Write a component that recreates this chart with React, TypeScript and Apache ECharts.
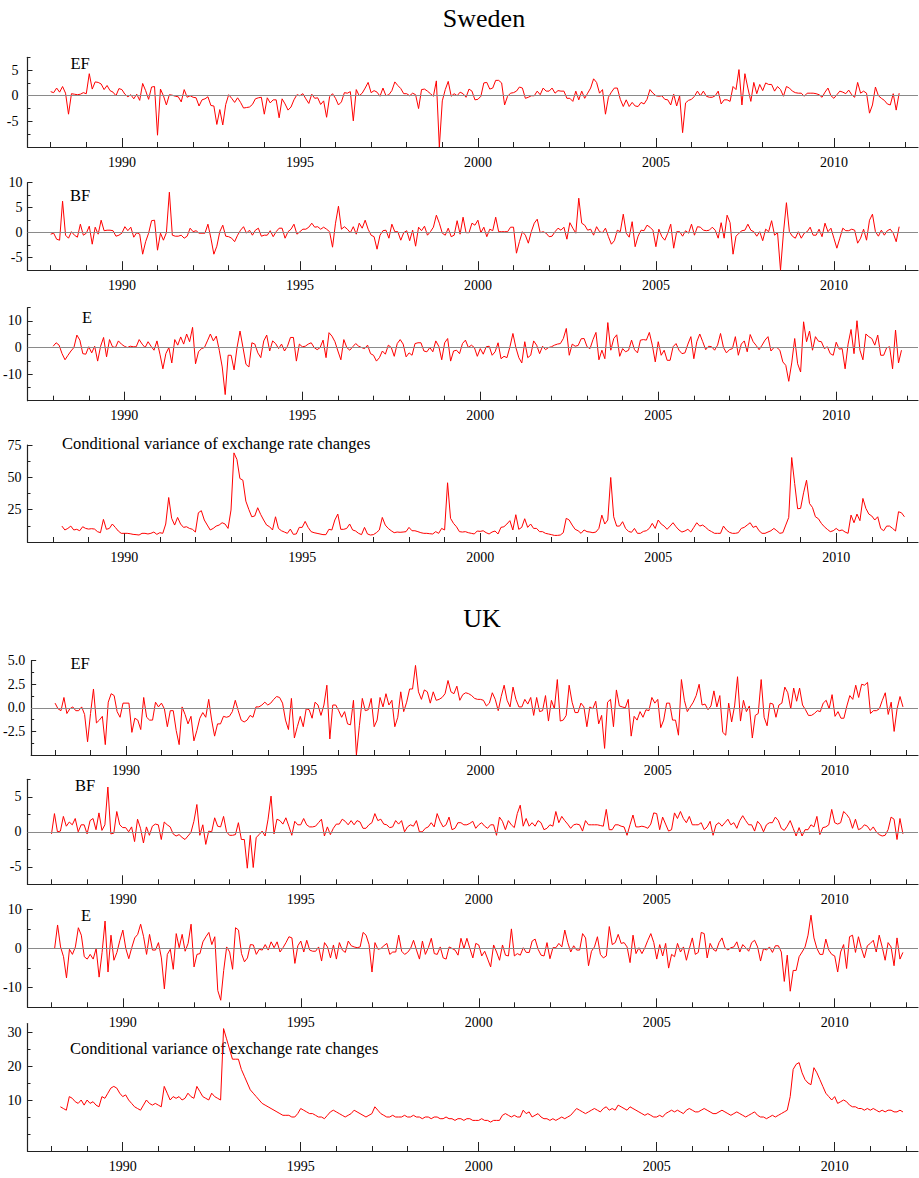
import React, { useEffect, useRef } from "react";
import * as echarts from "echarts";

// ---------- DATA (monthly values, first month index relative to Jan 1988) ----------
const MAJOR_YEARS = [1990, 1995, 2000, 2005, 2010];
const MINOR_YEARS = [1988, 1989, 1990, 1991, 1992, 1993, 1994, 1995, 1996, 1997, 1998, 1999, 2000, 2001, 2002, 2003, 2004, 2005, 2006, 2007, 2008, 2009, 2010, 2011, 2012];

const SWE_EF_START = 0;
const SWE_EF = [
  0.8, 0.6, 1.5, 0.7, 1.8, 0.5, -3.6, 0.4, 0.3, 0.2, 0.3, 0.6,
  0.4, 4.3, 1.3, 2.7, 2.6, 2.3, 1.2, 2.0, 1.0, 0.7, 0.0, 1.4,
  1.2, 0.3, -0.2, 0.2, -0.6, 0.3, -0.9, 2.4, 1.0, -0.7, 1.7, 1.8,
  -7.7, 1.3, 0.0, -1.8, 0.2, 0.1, -0.1, -0.2, -1.2, 1.2, -0.3, 0.0,
  -0.3, -0.4, -2.0, -0.8, -0.6, -0.2, -1.9, -2.0, -5.6, -2.7, -5.7, -1.7,
  0.2, -0.5, -1.3, -0.4, -1.3, -2.4, -2.3, -2.2, -1.7, -0.6, -0.4, -0.3,
  -3.6, -0.4, -1.4, -0.8, -0.8, -4.3, -0.6, -1.6, -2.8, -2.2, -0.8, 0.2,
  0.0, 0.4, -0.6, -1.5, 0.3, -0.5, -0.4, -1.7, -1.0, -4.2, -0.2, 0.4,
  -0.5, -1.8, -1.2, 0.6, 0.5, 0.8, -4.9, 1.2, 0.0, 0.5, 1.5, 2.6,
  0.6, 1.0, 0.7, -0.1, 1.5, 0.0, 0.2, 1.0, 2.7, 2.0, 1.4, 0.4,
  0.4, 0.0, 0.5, 0.2, -2.5, 1.2, 1.3, 0.9, 0.4, -0.1, 2.9, -10,
  -1.0, 1.2, 2.8, -0.1, 0.4, 0.0, 0.7, 0.4, -0.3, 1.3, 0.9, -0.8,
  -0.7, -0.1, 2.5, 2.6, 1.3, 1.5, 3.0, 3.0, 2.5, -1.8, -0.1, 0.5,
  0.6, 0.9, 1.7, 1.5, -0.5, -0.3, 0.0, 0.0, 0.9, 0.2, 1.5, 0.9,
  0.9, 1.5, 0.5, 1.0, 0.9, 0.9, -0.5, -0.5, -1.1, 0.9, -0.8, 0.9,
  -0.5, 0.5, 1.5, 3.3, 2.6, 0.5, 1.2, -3.6, -0.3, 0.7, 1.5, 1.5,
  -0.7, -2.1, -0.8, -2.1, -1.3, -2.0, -2.1, -1.3, -1.6, -0.7, 1.2, 0.5,
  0.0, -0.1, 0.0, -0.7, -0.8, -1.8, 0.3, -2.0, 0.0, -7.2, -1.4, -0.9,
  -0.7, -0.1, 0.9, 0.0, 0.9, -0.1, -0.3, -0.3, 0.0, 0.9, -1.6, -0.8,
  -0.8, -1.1, 1.8, 1.2, 5.1, -1.8, 4.3, 1.5, -1.1, 2.6, 0.4, 2.2,
  1.0, 2.5, 2.2, 2.2, 0.9, 1.8, 1.2, -0.1, 1.8, 1.5, 0.9, 0.6,
  0.5, 0.5, -0.1, 0.5, 0.5, 0.5, 0.4, 0.2, -0.3, 0.7, 1.5, 0.0,
  -0.5, 0.2, 0.9, 0.7, 0.4, 1.1, 0.2, -0.3, 2.6, 0.5, 0.9, 0.5,
  -3.4, -1.8, 1.7, 0.0, -0.5, -0.9, -1.6, -1.8, 0.4, -2.8, 0.5,
];

const SWE_BF_START = 0;
const SWE_BF = [
  -0.3, -0.1, -1.3, -1.5, 6.3, -0.5, -1.1, 0.2, -0.5, -0.9, 1.7, -0.5, -0.1, 1.3, -2.3, 1.1, -0.3, 2.5, 0.4, 0.5,
  0.5, 0.4, -0.7, -0.5, -0.1, 1.2, 0.4, 1.1, -0.9, 0.0, -0.3, -4.3, -1.8, -0.1, 2.4, 2.5, -3.5, -0.1, -1.5, 0.0,
  8.1, -0.5, -0.7, -0.7, -0.5, -1.1, -0.7, 0.9, 0.2, 0.4, -0.1, -0.1, -0.1, 1.7, -1.1, -4.3, -2.7, 0.2, 1.5, -0.7,
  -0.8, -1.1, -1.8, -0.5, 0.5, 1.2, -0.1, 0.5, -0.5, 0.5, 0.9, -0.7, -0.5, -0.5, 0.4, -0.8, 0.2, 0.9, 0.9, -1.1,
  0.2, 0.7, 1.7, -0.3, 0.2, 0.7, 0.7, 1.1, 1.9, 1.1, 1.2, 0.7, 1.1, 0.7, 0.2, -2.9, 1.9, 5.3, 0.7, 1.2,
  0.7, 0.0, 1.2, -0.3, 1.9, 0.9, 2.5, 0.7, -0.5, -0.8, -3.3, -0.5, 0.4, 0.5, -1.1, 1.7, 0.2, 0.2, -1.5, 0.0,
  0.4, -1.6, 0.5, -2.7, 1.1, 0.4, 1.3, -0.5, 0.2, 1.1, 3.5, 1.9,
  -0.1, -0.5, 0.9, -0.8, -0.5, 2.4, -0.3, 3.1, 0.0, 0.0, 1.9, 1.5, 2.5, 0.0, 1.1, -0.8, 0.7, 0.4, 3.1, 0.2,
  0.2, 0.2, 0.2, 1.1, 1.1, -4.1, -1.8, 0.2, -0.5, -2.1, 0.2, 1.9, 2.7, 0.0, 0.2, -0.1, -0.8, -0.7, 0.2, 0.9,
  0.5, 1.1, -1.3, 2.0, 0.9, -0.1, 6.9, 1.9, 1.5, 0.5, 0.7, -0.5, 1.2, 0.2, 0.0, 0.9, -0.8, -2.3, -1.6, 0.5,
  0.2, 3.7, -0.1, -0.9, 2.2, -2.8, -0.7, 0.5, 0.4, 1.5, 1.1, 0.5, -2.8, 0.7, -0.8, -1.5, -0.1, 1.7, -3.1, 0.2,
  0.2, -0.7, 0.4, -0.1, 1.7, -0.5, 1.2, 1.1, 0.5, 0.4, 0.5, 1.1, 0.5, -1.1, 2.0, -1.1, 3.5, 2.0, -4.3, -0.7,
  -0.1, 0.4, 0.5, 1.7, 0.5, 0.2, -0.7, 0.2, -1.6, 0.7, 0.2, 2.4, -0.5, 0.0, -7.5, 0.0, 6.0, 0.2, -0.7, -1.1,
  0.2, -1.1, -0.1, 0.2, 1.1, -0.5, -0.5, 0.7, -0.8, 1.9, 0.2, 0.9, -1.1, -3.1, -1.1, 0.9, 0.4, 0.4, 0.7, 0.5,
  -2.1, -1.1, 0.7, -1.5, 2.5, 3.7, 0.2, -0.7, 0.5, -0.5, 0.4, 0.7, -0.1, -1.8, 1.2,
];

const SWE_E_START = 0;
const SWE_E = [
  0.5, 1.8, 0.9, -2.3, -4.6, -2.9, -1.3, 0.0, 4.7, 2.8, -2.3, -2.5, 0.3, -2.0, 0.5, -5.1, 0.5, 3.8, -3.5, 3.0,
  0.3, 0.0, 2.5, 1.3, 0.5, 0.0, 0.5, 0.3, 0.3, 3.0, 1.3, 0.0, 2.2, 0.5, -1.0, 2.5, -2.5, -8.0, -2.3, 0.0,
  -5.8, 3.0, 0.9, 4.0, 1.3, 5.1, 2.2, 7.6, -6.1, -1.6, -0.4, 0.0, 2.5, 5.1, 2.5, 4.3, -1.0, -7.3, -17.7, -2.9,
  -2.9, -8.4, 0.0, 6.2, 0.0, -6.3, -7.3, 1.8, 1.3, -2.0, -3.8, 2.5, 4.7, -1.3, 2.5, 1.5, -0.4, 1.3, -1.3, 0.5,
  3.8, 3.8, -5.1, 1.3, 0.3, 0.5, 1.3, 1.8, 0.0, -0.8, 0.0, 2.8, -3.8, 5.6, 4.3, 2.2, -1.3, -4.6, 3.0, 0.0,
  -1.0, 0.3, 1.5, 0.5, 0.0, -0.4, 0.9, -2.3, -2.9, -5.1, -3.8, -1.3, -2.5, 0.9, 0.0, -3.3, 1.5, 3.0, 1.3, -3.5,
  -2.0, -2.9, 1.5, 1.8, 1.8, -1.3, -1.6, 0.0, -1.6, 2.5, 0.5, -4.6, 1.8,
  3.4, -5.1, -1.3, -1.0, -2.3, 1.5, 2.8, 0.0, 0.9, 0.0, -3.3, -0.4, -2.5, 0.3, 0.5, -2.9, -1.6, 1.8, -4.2, -3.3,
  -3.8, 0.3, 5.3, 0.0, -3.8, -5.8, 2.2, -3.8, -2.9, 2.5, 0.9, -2.3, 0.5, -0.8, 0.0, 0.3, 0.9, 1.3, 1.5, 3.4,
  7.2, -2.9, 1.3, 0.5, 0.8, 3.3, 3.4, 0.3, -0.4, 3.0, 5.7, -4.6, -1.0, -4.2, 9.4, -1.0, 3.4, 4.8, -3.3, -0.4,
  -1.6, -1.0, 2.8, -0.8, -2.0, 2.8, 3.0, 2.8, 5.7, 0.9, -5.4, 2.2, -2.9, -1.0, -4.8, -4.8, 0.3, 1.5, -1.0, -2.3,
  -2.0, 1.3, 4.1, -4.2, 2.2, 5.1, 2.2, -0.8, 0.5, 0.3, -1.0, 0.9, 5.3, 0.0, -2.0, -0.8, -0.4, 4.1, -2.9, 1.3,
  2.5, -1.6, 4.9, 2.2, 0.8, -0.8, 0.9, 2.8, 4.1, -1.3, 0.0, 0.0, -1.0, -5.4, -6.7, -12.7, -5.8, 3.4, -6.1, -9.2,
  9.7, 2.2, 6.2, -1.0, 4.1, 2.4, 2.2, -0.4, 0.3, -2.3, -2.9, 2.0, -0.6, -0.4, -8.0, 1.3, 6.8, -2.3, 10.1, -1.0,
  -4.6, 5.1, 4.1, 3.4, 0.9, 4.7, -2.9, -2.9, -0.1, 0.3, -8.0, 6.6, -5.8, -1.0,
];

const SWE_CV_START = 3;
const SWE_CV = [
  12.3, 9.3, 10.5, 12.3, 9.3, 9.8, 8.7, 11.8, 10.5, 10.0, 10.3, 10.0, 8.0, 7.2, 17.5, 9.8, 10.5, 13.9, 11.3, 8.5,
  6.7, 6.7, 6.7, 6.4, 5.9, 5.7, 5.4, 6.7, 6.7, 6.2, 6.7, 7.7, 5.9, 7.2, 6.7, 13.9, 34.4, 18.3, 13.1, 19.0,
  13.9, 11.3, 11.8, 10.5, 9.8, 7.7, 22.6, 24.2, 17.0, 13.1, 9.3, 10.5, 12.3, 13.1, 14.9, 13.9, 10.5, 24.7, 68.9, 63.8,
  49.1, 47.8, 31.6, 25.2, 19.5, 20.1, 26.5, 21.3, 17.0, 13.1, 11.8, 9.3, 19.5, 10.5, 8.7, 7.7, 6.7, 10.0, 5.9, 6.2,
  11.3, 11.3, 15.9, 11.3, 8.0, 7.2, 6.7, 6.2, 5.7, 5.7, 9.8, 9.3, 17.0, 21.6, 9.8, 9.8, 10.5, 13.9, 9.3, 8.5,
  6.7, 5.7, 11.3, 6.2, 5.4, 5.7, 7.2, 9.3, 19.0, 13.1, 10.5, 8.7, 7.2, 7.7, 7.5, 7.7, 8.0, 11.3, 8.7, 8.7,
  8.0, 7.2, 6.7, 6.7, 6.4, 6.2, 8.0, 6.7, 10.5,
  9.3, 45.8, 18.3, 14.4, 11.8, 8.0, 7.7, 8.0, 7.2, 6.7, 6.2, 8.5, 8.2, 8.7, 7.2, 6.2, 7.7, 8.5, 6.2, 11.3,
  11.8, 13.9, 16.5, 9.3, 21.1, 9.8, 11.3, 18.0, 11.3, 13.9, 10.5, 10.5, 8.0, 8.0, 6.7, 6.2, 5.7, 5.1, 5.1, 5.4,
  7.2, 18.3, 17.0, 13.1, 9.8, 8.7, 6.7, 9.3, 8.0, 7.7, 7.2, 7.7, 10.5, 20.8, 13.9, 17.0, 49.9, 19.5, 12.3, 12.3,
  15.7, 10.5, 8.2, 7.5, 10.5, 6.7, 6.7, 8.2, 8.7, 10.5, 14.4, 10.5, 17.0, 13.9, 12.3, 9.8, 12.3, 14.9, 11.8, 9.3,
  7.7, 8.5, 9.8, 7.7, 11.3, 14.9, 12.3, 13.1, 11.3, 9.3, 8.0, 6.7, 6.7, 6.7, 12.3, 9.3, 7.5, 6.7, 6.7, 7.2,
  10.5, 11.3, 13.1, 14.9, 11.3, 12.3, 8.7, 6.7, 6.7, 7.7, 8.7, 10.5, 8.7, 6.7, 7.2, 13.1, 19.0, 65.3, 45.2, 25.7,
  26.0, 38.0, 47.8, 29.8, 26.7, 19.5, 18.0, 14.4, 11.8, 9.8, 8.0, 8.7, 10.5, 8.7, 9.3, 7.7, 6.7, 20.8, 14.9, 21.6,
  16.5, 33.7, 26.0, 21.6, 20.1, 17.0, 19.5, 10.5, 8.7, 12.3, 12.3, 10.5, 8.5, 23.4, 22.6, 19.5,
];

const UK_EF_START = 0;
const UK_EF = [
  0.5, -0.1, -0.3, 1.1, -0.6, -0.1, 0.1, -0.3, -0.3, 0.1, -0.7, -3.6, -0.6, 2.0, -1.6, -1.3, -0.9, -3.9, 0.6, 1.5,
  1.3, -0.4, -1.0, 0.5, 0.5, 0.5, -2.6, -1.1, -1.3, -2.3, 1.1, -1.0, -1.3, -1.3, 0.6, 0.1, 0.5, -0.1, -2.0, -0.3,
  -0.3, -2.4, -3.9, 0.1, -0.7, -1.7, -0.9, -3.5, -2.4, -1.1, -0.5, -1.0, 0.9, -1.3, -3.0, -1.7, -1.7, -0.9, -1.0, -0.9,
  -0.4, 0.8, -0.3, -1.3, -1.5, -1.3, -0.8, -1.0, 0.1, 0.1, 0.3, 0.6, 0.3, 0.5, 0.9, 1.2, 1.1, 0.5, -1.3, -2.3,
  1.0, -3.2, -2.0, -0.9, -2.0, -0.1, -0.2, -1.1, 0.6, 0.3, -0.8, 0.3, 2.4, -3.3, 0.3, 0.3, -0.3, -1.0, -0.4, -1.7,
  -1.8, 0.8, -5.0, -1.9, 1.0, -0.3, -0.2, 1.0, -2.0, -1.3, 1.1, 0.1, 1.5, 0.3, 0.8, -2.0, -1.0, 1.7, -0.4, 0.6,
  2.0, 2.0, 4.5, 1.7, 0.9, 1.9, 1.7, 0.5, 1.7, 0.8, 0.9, 1.1, 1.5,
  2.9, 1.7, 1.5, 2.3, 0.8, 1.4, 1.6, 1.5, 1.3, 1.0, 0.9, 0.9, 0.8, 0.2, 0.5, 1.6, 0.9, -0.3, 1.2, 2.4,
  0.8, 0.1, 2.2, 0.9, 0.1, 0.1, 0.9, 0.4, 1.1, -0.8, 1.1, -0.4, -0.3, 1.3, -1.4, 0.8, -0.1, 3.0, -1.4, -1.3,
  -0.8, 2.4, 0.6, -0.5, -0.5, 0.5, 0.1, -2.0, 0.1, -0.1, 0.7, -1.7, -0.8, -4.3, 0.6, 0.9, -2.0, 1.9, 0.2, 0.1,
  0.0, 0.9, -3.0, -0.9, -1.3, -0.4, -1.0, -0.2, -0.3, 1.1, 0.5, 0.9, -2.1, -1.3, 0.5, 0.5, -1.3, -1.3, -2.9, 3.0,
  0.8, -0.4, 0.1, 0.6, 1.3, 2.5, 0.3, 0.4, -0.2, 0.2, 1.8, 0.1, 1.3, -2.6, -2.9, 0.5, -1.5, 0.2, 3.3, -1.4,
  0.8, -0.4, 0.2, -3.2, -0.8, -0.6, 3.0, -1.0, -1.9, 0.5, 0.4, -1.0, 0.3, 0.5, 2.2, 1.6, -0.1, 2.1, 0.7, 2.1,
  0.3, -0.2, -0.8, -0.8, -0.6, -0.3, -0.4, 0.5, 0.8, -0.1, 1.4, -0.9, -0.4, -1.1, -1.1, 0.2, 1.3, 0.9, 2.4, 1.1,
  2.5, 2.4, 2.7, -0.6, -0.3, -0.3, -0.1, 0.8, 1.6, -0.7, 0.6, -2.5, -0.1, 1.2, 0.1,
];

const UK_BF_START = 0;
const UK_BF = [
  -0.3, 2.6, 0.0, 0.1, 2.2, 0.8, 1.4, 1.0, 1.9, 0.0, 1.0, 1.0, -0.3, 1.6, 1.9, 0.3, 2.7, 0.2, 1.0, 6.4,
  -0.3, -0.2, 2.9, 1.0, 0.6, 0.6, 0.0, 0.7, -1.4, 1.8, 0.5, -1.6, 0.7, -0.5, 0.8, 1.1, 1.0, -1.1, 1.4, 1.0,
  0.7, -0.3, -0.6, -0.4, -0.8, -1.1, -0.6, -0.1, 1.5, 3.9, -0.5, 1.0, -1.8, 0.1, 0.0, 2.0, 0.8, 0.7, 2.2, 0.0,
  -0.5, -0.5, -0.4, 1.3, -1.1, -1.1, -5.2, -0.5, -5.1, -0.8, -0.4, 0.1, -0.6, 1.8, 5.1, -0.3, 1.8, 1.6, 1.1, 2.0,
  0.8, -0.5, 1.5, 1.0, 1.0, 1.9, 1.0, 0.7, 0.7, 0.8, 1.3, 1.8, -0.6, 0.7, -0.4, 0.5, 1.1, 1.1, 1.8, 1.5,
  1.0, 1.6, 1.0, 1.6, 1.4, 0.5, 0.5, 1.0, 1.3, 2.6, 1.6, 1.8, 1.1, 1.0, 0.6, 0.7, 1.6, 1.1, 1.6, 0.0,
  0.7, 1.0, 0.8, 1.6, 0.0, 0.0, 0.5, 0.7, 1.3, 0.7, 2.6, 1.5,
  0.7, 1.0, 2.1, 0.3, 0.5, 1.3, 1.3, 1.0, 1.0, 1.2, 1.5, 0.5, 1.0, 1.3, 0.8, 0.5, 1.0, 1.0, -0.5, 2.1,
  1.5, 0.3, 1.6, 1.0, 0.6, 2.6, 3.8, 0.8, 1.9, 0.8, 1.3, 0.8, 1.6, 1.3, 0.3, 0.5, 1.0, 0.8, 2.9, 1.3,
  2.2, 1.6, 1.1, 0.5, 1.0, 1.1, 1.0, 0.1, 1.6, 1.0, 1.0, 1.0, 1.0, 0.9, 0.8, 3.2, 0.3, 0.3, 1.0, 1.0,
  0.8, 0.7, -0.5, 1.0, 2.4, 0.7, 0.7, 0.8, 0.7, 0.5, 1.1, 2.7, 2.6, 0.3, 2.1, 1.1, 0.1, 0.3, 2.7, 1.9,
  2.9, 1.9, 1.3, 2.2, 1.0, 1.0, 1.0, 1.3, 0.3, 0.7, 1.5, -0.5, 1.0, 1.3, 0.8, 1.3, 1.8, 1.0, 1.3, 0.5,
  1.6, 2.3, 1.6, 1.0, 1.0, 0.1, 1.5, 1.0, 0.0, 1.0, 1.3, 1.3, 2.1, 1.6, 0.5, 0.2, 0.8, 1.6, 0.5, -0.6,
  0.6, -0.6, 0.3, 0.3, 1.0, 0.7, 2.2, -0.4, 0.6, 0.7, 1.0, 3.2, 1.3, 1.1, 1.3, 2.9, 2.5, 1.9, 0.5, 1.8,
  0.3, 0.5, 1.0, 0.8, 0.2, 0.7, 0.0, -0.4, -0.6, -0.5, 0.3, 2.1, 1.8, -1.1, 1.9, -0.3,
];

const UK_E_START = 1;
const UK_E = [
  0.0, 6.0, 0.4, -2.1, -7.5, -0.2, -1.5, 0.4, 5.3, 3.4, -2.1, -2.7, -1.5, -2.7, 0.0, -7.3, -1.0, 7.0, -6.0, 3.4,
  -3.0, -1.0, 2.1, 4.7, 0.0, -2.6, 0.2, 2.7, 3.6, 6.2, 3.0, -1.5, 3.6, -0.4, -0.4, 1.5, -2.4, -10.3, -1.5, -0.2,
  -5.3, 3.8, 0.2, 3.6, -0.7, 1.3, 6.2, -4.7, -1.5, -1.3, 1.7, 3.0, 4.1, 1.0, 3.0, -10.7, -13.2, -5.6, 0.4, -0.9,
  -5.3, 5.3, 4.7, -1.3, -3.4, -2.4, 1.0, 0.9, -1.5, -0.2, -0.4, 1.0, -0.4, 1.7, 0.2, 1.7, -0.9, 0.2, 1.5, 3.0,
  2.7, -3.8, 0.7, 1.9, -0.9, 2.1, -0.4, -0.7, -0.7, 0.4, -3.2, 1.5, 0.4, -2.4, 0.9, -2.7, 1.5, -0.4, -1.0, 1.9,
  0.7, 0.4, 0.2, 0.4, 4.1, 3.4, 1.0, -6.0, 1.5, -0.2, 0.0, 0.7, 1.3, -1.5, -0.9, -0.9, 3.4, -0.7, -1.5, -1.0,
  0.0, 2.1, -0.4, -2.7, 1.9, -1.5, 0.2, 2.6, -1.3, -1.5, 0.4, -2.4,
  -2.7, 0.4, 0.0, -0.4, -1.7, 2.6, 0.0, 2.6, 0.0, -2.4, 1.3, 0.9, -1.9, -0.7, -2.7, -4.7, 0.9, -0.9, -3.0, 0.9,
  -1.7, -1.9, 5.0, -1.9, -1.3, -1.7, 0.2, -1.0, -1.0, 1.9, 2.4, -0.2, -1.7, -1.9, 1.5, -2.6, 0.2, 0.2, 1.3, 0.4,
  4.7, 1.5, -0.9, 0.7, -0.4, -0.4, 3.8, 2.7, -4.4, -0.7, 0.4, 3.0, -1.5, -2.4, -1.9, 5.6, 1.0, 1.5, 3.6, 1.3,
  1.5, 0.4, -3.6, 3.4, -1.3, 0.2, -1.3, 0.2, 2.1, 3.8, 1.5, -2.7, 1.0, -1.9, 1.3, -5.0, -1.5, -2.1, 1.3, -0.9,
  0.4, -3.0, 0.0, 2.7, -1.5, -1.0, 4.1, 3.8, -2.4, 1.3, -0.2, -0.7, 1.5, 2.7, 0.2, -0.4, 0.2, 0.4, 1.7, -0.9,
  1.0, 0.2, -0.7, 1.5, 2.1, 0.4, -3.2, 0.0, -0.4, 0.4, -1.0, 0.7, 0.7, -0.9, -8.4, -1.7, -10.9, -5.6, -5.6, -2.1,
  -0.9, 0.4, 3.4, 8.5, 2.7, 0.0, -1.5, -1.5, 2.4, -0.4, -1.5, -1.9, -6.0, -0.9, 1.0, -5.1, 3.0, 3.4, -1.0, 3.0,
  0.0, -2.4, 0.7, 1.3, 2.1, -0.9, 3.4, 0.4, -3.0, 1.5, 0.4, -4.4, 2.7, -2.7, -1.0,
];

const UK_CV_START = 3;
const UK_CV = [
  8, 7.5, 7, 11, 10.5, 9.5, 9, 10, 8.5,
  10, 9, 9.5, 8.5, 8, 11, 10.5, 12, 13.5, 14, 13.5, 12,
  11, 11.5, 10, 9, 8, 7.5, 7, 8.5, 10, 9, 8.5, 9,
  8.5, 8, 14, 12, 10, 11, 10.5, 11, 10, 10.5, 12, 11,
  10.5, 14, 12.5, 11, 10.5, 10, 12, 11, 10.5, 10, 31, 28,
  25, 22, 22, 22, 19, 17, 15, 13, 12, 11, 10, 9,
  8.5, 8, 7.5, 7, 6.5, 6, 5.5, 5.5, 5.5, 5, 5, 6,
  7.5, 7, 6.5, 6, 6, 5.5, 5, 5, 4.5, 5.5, 6.5, 7,
  6.5, 6, 5.5, 5, 5.5, 6, 7, 6.5, 6, 5.5, 5, 5.5,
  6, 8, 7, 6, 5.5, 5, 5, 5.5, 5, 5, 5, 5.5,
  5, 5, 5.5, 5, 5, 4.5, 5, 5, 4.5, 5, 5, 4.5,
  4.5, 5, 4.5, 4.5, 4, 4.5, 4.5, 4, 4.5, 4.5, 4, 4,
  4, 4.5, 4, 4, 3.5, 4, 4, 4, 5.5, 6, 5.5, 5,
  5.5, 5, 5, 7, 6, 6.5, 5, 5.5, 6, 5, 4.5, 4.5,
  4, 4.5, 4, 4.5, 5, 4.5, 5, 5.5, 6.5, 7.5, 7, 6.5,
  6, 6.5, 7, 7.5, 7, 6.5, 7.5, 8, 7, 7.5, 7, 8.5,
  8, 7.5, 7, 8, 7.5, 7, 6.5, 6, 5.5, 6, 5.5, 5,
  5, 5.5, 5, 6, 6.5, 7, 6.5, 7, 6.5, 6, 7, 7.5,
  7, 6.5, 6.5, 7, 7.5, 7, 6.5, 6, 6, 6.5, 7, 6.5,
  6, 5.5, 6, 6.5, 6, 5.5, 5, 5.5, 6, 6.5, 5.5, 5,
  5, 4.5, 5, 5.5, 5, 5.5, 6, 6.5, 7, 11, 19, 20.5,
  21, 18, 16, 15, 14.5, 19.5, 18, 16, 14, 12, 11, 10,
  11, 9, 9.5, 10, 9.5, 8.5, 8, 8, 7.5, 7.5, 7, 7.5,
  7, 7.5, 7, 6.5, 7, 6.5, 7, 7, 6.5, 6.5, 7, 6.5,
];

// ---------- LAYOUT ----------
const W = 919;
const H = 1178;
const FONT = "Liberation Serif";
const AXIS_COLOR = "#222";
const LINE_COLOR = "#ff0000";
const PLOT_LEFT = 27.5;
const PLOT_RIGHT = 918;
const PX_PER_YEAR = 35.6;

type Panel = {
  data: number[];
  start: number;
  top: number;
  bottom: number;
  min: number;
  max: number;
  labels: number[];
  minor: number[];
  zero: boolean;
  title: string;
  tx: number;
  ty: number;
  titleAlign: "left" | "center";
  dec: number;
  labelMargin: number;
  x1988: number;
};

const PANELS: Panel[] = [
  { data: SWE_EF, start: SWE_EF_START, top: 57.3, bottom: 147, min: -10, max: 7.5, labels: [-5, 0, 5], minor: [-7.5, -2.5, 2.5, 7.5], zero: true, title: "EF", tx: 80, ty: 63, titleAlign: "center", dec: 0, labelMargin: 9, x1988: 50.7 },
  { data: SWE_BF, start: SWE_BF_START, top: 182.7, bottom: 270.2, min: -7.5, max: 10, labels: [-5, 0, 5, 10], minor: [-2.5, 2.5, 7.5], zero: true, title: "BF", tx: 80, ty: 195, titleAlign: "center", dec: 0, labelMargin: 5, x1988: 50.7 },
  { data: SWE_E, start: SWE_E_START, top: 307.7, bottom: 400.7, min: -20, max: 15, labels: [-10, 0, 10], minor: [-15, -5, 5, 15], zero: true, title: "E", tx: 87, ty: 317, titleAlign: "center", dec: 0, labelMargin: 6, x1988: 53 },
  { data: SWE_CV, start: SWE_CV_START, top: 445, bottom: 542, min: 0, max: 75, labels: [25, 50, 75], minor: [12.5, 37.5, 62.5], zero: false, title: "Conditional variance of exchange rate changes", tx: 62, ty: 443, titleAlign: "left", dec: 0, labelMargin: 6, x1988: 53 },
  { data: UK_EF, start: UK_EF_START, top: 660.7, bottom: 755, min: -5, max: 5, labels: [-2.5, 0, 2.5, 5], minor: [-3.75, -1.25, 1.25, 3.75], zero: true, title: "EF", tx: 80, ty: 663, titleAlign: "center", dec: 1, labelMargin: 6, x1988: 51.5 },
  { data: UK_BF, start: UK_BF_START, top: 779.3, bottom: 884.3, min: -7.5, max: 7.5, labels: [-5, 0, 5], minor: [-2.5, 2.5, 7.5], zero: true, title: "BF", tx: 85, ty: 785, titleAlign: "center", dec: 0, labelMargin: 6, x1988: 51.5 },
  { data: UK_E, start: UK_E_START, top: 909.3, bottom: 1007.3, min: -15, max: 10, labels: [-10, 0, 10], minor: [-5, 5], zero: true, title: "E", tx: 86, ty: 915, titleAlign: "center", dec: 0, labelMargin: 6, x1988: 51.5 },
  { data: UK_CV, start: UK_CV_START, top: 1023.5, bottom: 1151, min: -5, max: 32.5, labels: [10, 20, 30], minor: [0, 5, 15, 25], zero: false, title: "Conditional variance of exchange rate changes", tx: 70, ty: 1048, titleAlign: "left", dec: 0, labelMargin: 6, x1988: 51.5 },
];

function buildOption() {
  const grid: any[] = [];
  const xAxis: any[] = [];
  const yAxis: any[] = [];
  const series: any[] = [];
  const graphic: any[] = [];

  PANELS.forEach((p, i) => {
    grid.push({ left: PLOT_LEFT, width: PLOT_RIGHT - PLOT_LEFT, top: p.top, height: p.bottom - p.top, containLabel: false });
    const xmin = 1988 - (p.x1988 - PLOT_LEFT) / PX_PER_YEAR;
    const xmax = 1988 + (PLOT_RIGHT - p.x1988) / PX_PER_YEAR;
    xAxis.push({
      type: "value", gridIndex: i, min: xmin, max: xmax, position: "bottom",
      axisLine: { show: true, onZero: false, lineStyle: { color: AXIS_COLOR, width: 1.2 } },
      axisTick: { show: true, inside: true, length: 9, customValues: MAJOR_YEARS, lineStyle: { color: AXIS_COLOR, width: 1 } },
      axisLabel: { show: true, customValues: MAJOR_YEARS, margin: 8, color: "#000", fontFamily: FONT, fontSize: 14, formatter: (v: number) => String(Math.round(v)) },
      splitLine: { show: false },
    });
    xAxis.push({
      type: "value", gridIndex: i, min: xmin, max: xmax, position: "bottom",
      axisLine: { show: false, onZero: false },
      axisTick: { show: true, inside: true, length: 5, customValues: MINOR_YEARS, lineStyle: { color: AXIS_COLOR, width: 1 } },
      axisLabel: { show: false },
      splitLine: { show: false },
    });
    yAxis.push({
      type: "value", gridIndex: i, min: p.min, max: p.max, position: "left",
      axisLine: { show: true, onZero: false, lineStyle: { color: AXIS_COLOR, width: 1.2 } },
      axisTick: { show: true, inside: true, length: 5, customValues: p.labels, lineStyle: { color: AXIS_COLOR, width: 1 } },
      axisLabel: { show: true, customValues: p.labels, margin: p.labelMargin, color: "#000", fontFamily: FONT, fontSize: 14, formatter: (v: number) => (p.dec ? v.toFixed(p.dec) : String(v)) },
      splitLine: { show: false },
    });
    yAxis.push({
      type: "value", gridIndex: i, min: p.min, max: p.max, position: "left",
      axisLine: { show: false, onZero: false },
      axisTick: { show: true, inside: true, length: 3, customValues: p.minor, lineStyle: { color: AXIS_COLOR, width: 1 } },
      axisLabel: { show: false },
      splitLine: { show: false },
    });
    const pts = p.data.map((v, k) => [1988 + (p.start + k) / 12, v]);
    series.push({
      type: "line", xAxisIndex: 2 * i, yAxisIndex: 2 * i, data: pts,
      showSymbol: false, symbol: "none", silent: true,
      lineStyle: { color: LINE_COLOR, width: 1 },
      markLine: p.zero ? {
        silent: true, symbol: ["none", "none"], label: { show: false },
        lineStyle: { color: "#8a8a8a", width: 1, type: "solid" },
        data: [{ yAxis: 0 }],
      } : undefined,
      z: 3,
    });
    graphic.push({
      type: "text", x: p.tx, y: p.ty, silent: true,
      style: { text: p.title, fill: "#000", fontFamily: FONT, fontSize: 16.5, textAlign: p.titleAlign, textVerticalAlign: "middle" },
    });
  });

  graphic.push({ type: "text", x: 484, y: 18, silent: true, style: { text: "Sweden", fill: "#000", fontFamily: FONT, fontSize: 26, textAlign: "center", textVerticalAlign: "middle" } });
  graphic.push({ type: "text", x: 482, y: 618, silent: true, style: { text: "UK", fill: "#000", fontFamily: FONT, fontSize: 26, textAlign: "center", textVerticalAlign: "middle" } });

  return { animation: false, backgroundColor: "#fff", grid, xAxis, yAxis, series, graphic };
}

export default function App() {
  const ref = useRef<HTMLDivElement>(null);
  useEffect(() => {
    if (!ref.current) return;
    const chart = echarts.init(ref.current, null, { renderer: "svg", width: W, height: H });
    chart.setOption(buildOption());
    return () => chart.dispose();
  }, []);
  return <div ref={ref} style={{ position: "absolute", left: 0, top: 0, width: W, height: H, background: "#fff" }} />;
}
